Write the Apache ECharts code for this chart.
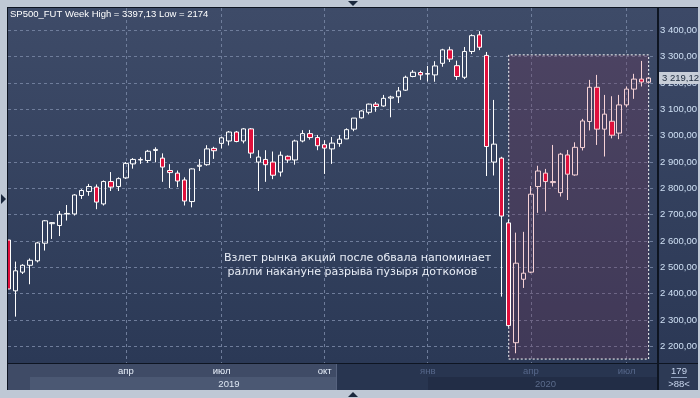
<!DOCTYPE html>
<html><head><meta charset="utf-8">
<script src="https://cdn.jsdelivr.net/npm/echarts@6/dist/echarts.min.js"></script>
<style>
html,body{margin:0;padding:0;background:#bfc8d5;}
#wrap{position:relative;width:700px;height:398px;background:#bfc8d5;overflow:hidden;}
.b{position:absolute;}
#chart{position:absolute;left:0;top:0;width:700px;height:398px;}
</style></head><body>
<div id="wrap">
 <div class="b" style="left:7px;top:7px;width:691px;height:383px;background:#0e1522"></div>
 <div class="b" style="left:8px;top:8px;width:649px;height:355px;background:linear-gradient(#3e4b68,#2b3956)"></div>
 <div class="b" style="left:659px;top:8px;width:39px;height:355px;background:linear-gradient(#3c4967,#2b3855)"></div>
 <div class="b" style="left:8px;top:364px;width:328px;height:13px;background:#3f4b66"></div>
 <div class="b" style="left:337px;top:364px;width:320px;height:13px;background:#283550"></div>
 <div class="b" style="left:8px;top:377px;width:22px;height:13px;background:#3f4b66"></div>
 <div class="b" style="left:30px;top:377px;width:306px;height:13px;background:#4b5873"></div>
 <div class="b" style="left:337px;top:377px;width:91px;height:13px;background:#283550"></div>
 <div class="b" style="left:428px;top:377px;width:229px;height:13px;background:#222d46"></div>
 <div class="b" style="left:336px;top:364px;width:1px;height:26px;background:#56627e"></div>
 <div class="b" style="left:659px;top:364px;width:39px;height:26px;background:#2d3a55"></div>
 <div class="b" style="left:348px;top:1px;width:0;height:0;border-left:5px solid transparent;border-right:5px solid transparent;border-top:5px solid #1b283d"></div>
 <div class="b" style="left:348px;top:392px;width:0;height:0;border-left:5px solid transparent;border-right:5px solid transparent;border-bottom:5px solid #1b283d"></div>
 <div id="chart"></div>
</div>
<script>
// ---- data ----
const categories = [
'2018-12-17','2018-12-24','2018-12-31','2019-01-02','2019-01-07','2019-01-14','2019-01-22','2019-01-28','2019-02-04','2019-02-11',
'2019-02-19','2019-02-25','2019-03-04','2019-03-11','2019-03-18','2019-03-25','2019-04-01','2019-04-08','2019-04-15','2019-04-22',
'2019-04-29','2019-05-06','2019-05-13','2019-05-20','2019-05-28','2019-06-03','2019-06-10','2019-06-17','2019-06-24','2019-07-01',
'2019-07-08','2019-07-15','2019-07-22','2019-07-29','2019-08-05','2019-08-12','2019-08-19','2019-08-26','2019-09-02','2019-09-03',
'2019-09-09','2019-09-16','2019-09-23','2019-09-30','2019-10-07','2019-10-14','2019-10-21','2019-10-28','2019-11-04','2019-11-11',
'2019-11-18','2019-11-25','2019-12-02','2019-12-09','2019-12-16','2019-12-23','2019-12-30','2020-01-02','2020-01-06','2020-01-13',
'2020-01-21','2020-01-27','2020-02-03','2020-02-10','2020-02-18','2020-02-24','2020-03-02','2020-03-09','2020-03-16','2020-03-23',
'2020-03-30','2020-04-06','2020-04-13','2020-04-20','2020-04-27','2020-05-04','2020-05-11','2020-05-18','2020-05-26','2020-06-01',
'2020-06-08','2020-06-15','2020-06-22','2020-06-29','2020-07-06','2020-07-13','2020-07-20','2020-07-27','2020-08-03'];
const opens = [
2604,2411,2482,2508,2525,2592,2666,2659,2703,2703,
2773,2788,2805,2741,2826,2807,2840,2893,2910,2906,
2944,2915,2868,2858,2832,2750,2884,2890,2952,2971,
2980,3014,2980,3026,2900,2910,2900,2862,2922,2908,
2980,3008,2993,2966,2950,2970,2988,3025,3068,3089,
3120,3113,3143,3148,3173,3225,3240,3236,3231,3275,
3326,3266,3222,3320,3383,3305,2900,2915,2669,2214,
2455,2482,2807,2858,2822,2784,2927,2851,2955,3054,
3184,3025,3055,3010,3117,3177,3215,3203];
const closes = [
2418,2487,2508,2527,2593,2677,2670,2702,2705,2775,
2792,2807,2748,2826,2805,2837,2895,2910,2908,2941,
2948,2881,2860,2828,2752,2874,2888,2950,2943,2992,
3014,2978,3026,2934,2919,2890,2850,2926,2908,2980,
3008,2993,2962,2953,2972,2987,3023,3067,3094,3120,
3111,3142,3147,3170,3222,3241,3231,3234,3265,3326,
3291,3225,3320,3380,3336,2959,2968,2695,2279,2516,
2478,2778,2866,2826,2826,2930,2854,2956,3056,3184,
3025,3082,3002,3117,3177,3215,3204,3219.12];
const lows = [
2405,2313,2475,2436,2519,2564,2608,2619,2678,2697,
2760,2772,2721,2735,2790,2790,2836,2875,2893,2897,
2899,2825,2801,2805,2735,2728,2866,2886,2912,2952,
2963,2975,2971,2915,2790,2825,2835,2845,2897,2890,
2975,2985,2945,2855,2893,2958,2987,3017,3065,3081,
3091,3110,3070,3124,3170,3222,3212,3206,3205,3262,
3280,3212,3215,3310,3325,2847,2849,2389,2274,2174,
2422,2478,2707,2712,2807,2769,2756,2848,2944,3020,
2965,2921,2990,2987,3108,3140,3187,3198];
const highs = [
2610,2522,2512,2534,2597,2680,2672,2714,2737,2778,
2797,2817,2815,2830,2862,2842,2900,2915,2918,2946,
2956,2933,2892,2868,2842,2876,2911,2964,2958,2996,
3018,3018,3029,3029,2945,2945,2940,2940,2925,2985,
3021,3022,3003,2983,2995,3003,3028,3067,3097,3122,
3128,3155,3152,3185,3228,3249,3247,3265,3283,3330,
3338,3285,3337,3385,3397.13,3318,3136,2920,2680,2632,
2635,2809,2886,2874,2965,2935,2946,2975,3064,3212,
3231,3155,3150,3155,3187,3235,3284,3222];
const monthTickIndex = [16,29,43,57,71,84];
const monthTickLabels = ['апр','июл','окт','янв','апр','июл'];
const yearTickIndex = [30,73];
const yearTickLabels = ['2019','2020'];
const priceTicks = [2200,2300,2400,2500,2600,2700,2800,2900,3000,3100,3200,3300,3400];
const zoneIdx = [68,87];
const zonePrice = [2152,3307];
const noteLines = ['Взлет рынка акций после обвала напоминает',' ралли накануне разрыва пузыря доткомов'];
const cornerTexts = ['179','>88<'];
const instrument = 'SP500_FUT Week';

// ---- helpers ----
const fmtPrice = v => {
  const s = Number(v).toFixed(2); const p = s.split('.');
  return p[0].replace(/\B(?=(\d{3})+(?!\d))/g,' ') + ',' + p[1];
};
const fmtShort = v => Number.isInteger(v) ? String(v) : v.toFixed(2).replace('.', ',');
const hi = Math.max(...highs), lo = Math.min(...lows);
const lastClose = closes[closes.length - 1];
const brightUntil = 44; // labels left of the scroll split are bright
const pink = '#f6d2d6';

const candleData = opens.map((o, i) => {
  const item = { value: [o, closes[i], lows[i], highs[i]] };
  if (i > zoneIdx[0] && i <= zoneIdx[1]) item.itemStyle = { borderColor: pink, borderColor0: pink };
  return item;
});

const chart = echarts.init(document.getElementById('chart'), null, { renderer: 'canvas' });
const FONT = 'Liberation Sans, Arial, sans-serif';
chart.setOption({
  animation: false,
  backgroundColor: 'transparent',
  title: {
    text: `${instrument} High = ${fmtShort(hi)} Low = ${fmtShort(lo)}`,
    left: 10, top: 9, padding: 0,
    textStyle: { color: '#ffffff', fontSize: 9.5, fontWeight: 'normal', fontFamily: FONT }
  },
  grid: { left: 8, top: 8, width: 649, height: 355, containLabel: false },
  xAxis: [{
    type: 'category', data: categories, boundaryGap: false,
    axisLine: { show: false }, axisTick: { show: false },
    splitLine: { show: true, interval: (i) => monthTickIndex.includes(i), lineStyle: { color: '#6f7d9b', type: [3, 3], width: 1 } },
    axisLabel: {
      show: true, margin: 3, interval: (i) => monthTickIndex.includes(i),
      formatter: (v, i) => { const k = monthTickIndex.indexOf(i); return k < 0 ? '' : `{${i <= brightUntil ? 'b' : 'd'}|${monthTickLabels[k]}}`; },
      rich: { b: { color: '#e8f0fb', fontSize: 9.5, fontFamily: FONT }, d: { color: '#56678a', fontSize: 9.5, fontFamily: FONT } }
    }
  }, {
    type: 'category', data: categories, boundaryGap: false, position: 'bottom',
    axisLine: { show: false }, axisTick: { show: false }, splitLine: { show: false },
    axisLabel: {
      show: true, margin: 16, interval: (i) => yearTickIndex.includes(i),
      formatter: (v, i) => { const k = yearTickIndex.indexOf(i); return k < 0 ? '' : `{${i <= brightUntil ? 'b' : 'd'}|${yearTickLabels[k]}}`; },
      rich: { b: { color: '#dde6f3', fontSize: 9.5, fontFamily: FONT }, d: { color: '#5b6b8b', fontSize: 9.5, fontFamily: FONT } }
    }
  }],
  yAxis: {
    type: 'value', position: 'right', min: 2137, max: 3485, scale: true,
    axisLine: { show: false }, axisTick: { show: false, customValues: priceTicks },
    splitLine: { show: true, lineStyle: { color: '#6f7d9b', type: [3, 3], width: 1 } },
    axisLabel: { customValues: priceTicks, margin: 4, color: '#cfe0f4', fontSize: 9.5, fontFamily: FONT, formatter: fmtPrice }
  },
  series: [{
    type: 'candlestick', data: candleData, barWidth: 5,
    itemStyle: { color: 'rgba(0,0,0,0)', color0: '#e0103c', borderColor: '#ffffff', borderColor0: '#ffffff', borderWidth: 1 },
    markArea: {
      silent: true,
      itemStyle: { color: 'rgba(110,55,90,0.32)', borderColor: '#ffffff', borderWidth: 1, borderType: [2, 2] },
      data: [[{ xAxis: categories[zoneIdx[0]], yAxis: zonePrice[0] }, { xAxis: categories[zoneIdx[1]], yAxis: zonePrice[1] }]]
    },
    markLine: {
      silent: true, symbol: 'none', z: 20,
      lineStyle: { color: 'rgba(0,0,0,0)', width: 0, opacity: 1 },
      label: { show: true, position: 'end', distance: 3, formatter: () => fmtPrice(lastClose), opacity: 1,
        backgroundColor: '#c8ced8', color: '#1d2a3c', padding: [1, 2, 1, 3], fontSize: 9.5, fontFamily: FONT },
      data: [{ yAxis: lastClose }]
    }
  }],
  graphic: [
    { type: 'rect', z: 100, shape: { x: 0, y: 8, width: 7, height: 356 }, style: { fill: '#bfc8d5' } },
    { type: 'rect', z: 100, shape: { x: 7, y: 8, width: 1, height: 356 }, style: { fill: '#0e1522' } },
    { type: 'polygon', z: 101, shape: { points: [[1, 194], [6, 199], [1, 204]] }, style: { fill: '#1b283d' } },
    { type: 'text', z: 50, left: 224, top: 251, style: { text: noteLines.join('\n'), fill: '#e9eef7', font: '11px "DejaVu Sans"', lineHeight: 14 } },
    { type: 'text', z: 50, x: 679, y: 371, style: { text: cornerTexts[0], fill: '#c8d6ee', font: '9.5px ' + FONT, align: 'center', verticalAlign: 'middle' } },
    { type: 'rect', z: 50, shape: { x: 671, y: 377, width: 16, height: 1 }, style: { fill: '#8fa0bd' } },
    { type: 'text', z: 50, x: 679, y: 384, style: { text: cornerTexts[1], fill: '#c8d6ee', font: '9.5px ' + FONT, align: 'center', verticalAlign: 'middle' } }
  ]
});
</script>
</body></html>
